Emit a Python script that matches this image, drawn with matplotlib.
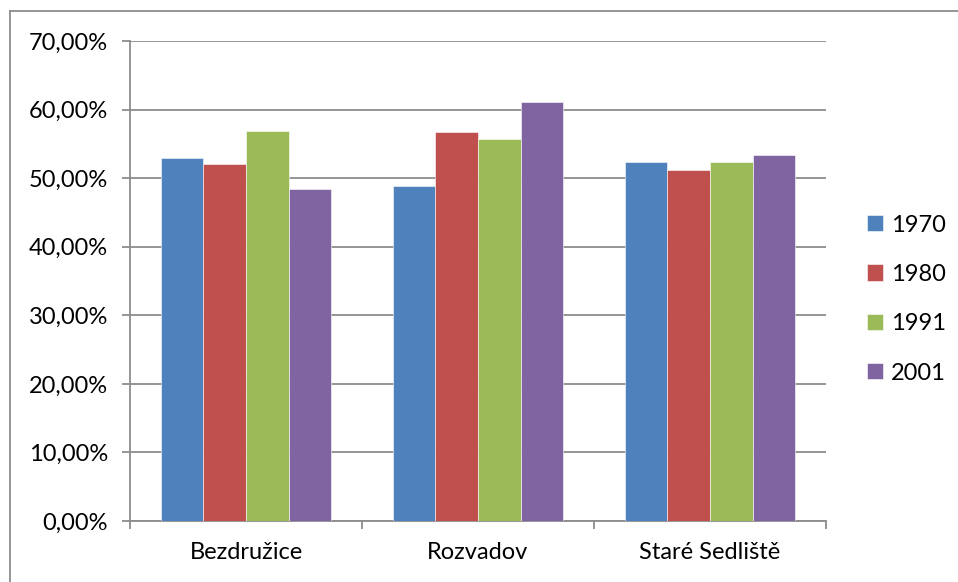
import numpy as np
import matplotlib.pyplot as plt
from matplotlib.lines import Line2D
from matplotlib.ticker import FuncFormatter

categories = ["Bezdružice", "Rozvadov", "Staré Sedliště"]
years = ["1970", "1980", "1991", "2001"]
values_1970 = [52.95, 48.85, 52.3]
values_1980 = [52.05, 56.7, 51.25]
values_1991 = [56.85, 55.65, 52.3]
values_2001 = [48.35, 61.1, 53.4]
series = [values_1970, values_1980, values_1991, values_2001]
colors = ["#4F81BD", "#C0504D", "#9BBB59", "#8064A2"]

plt.rcParams["font.family"] = ["Lato", "DejaVu Sans"]
grid_col = "#8c8c8c"
fs = 17

fig = plt.figure(figsize=(9.58, 5.82), dpi=100)
ax = fig.add_axes([130 / 958, 1 - 521 / 582, 696 / 958, 480 / 582])

x = np.arange(len(categories))
bw = 0.184
for i, (vals, c) in enumerate(zip(series, colors)):
    ax.bar(x + (i - 1.5) * bw, vals, width=bw, color=c, label=years[i],
           edgecolor="white", linewidth=0.4, zorder=3)

ax.set_xlim(-0.5, len(categories) - 0.5)
ax.set_ylim(0, 70)
ax.set_yticks(np.arange(0, 71, 10))
ax.yaxis.set_major_formatter(FuncFormatter(lambda v, p: f"{v:.2f}%".replace(".", ",")))
ax.yaxis.grid(True, color=grid_col, linewidth=1.3, zorder=0)

ax.set_xticks(x)
ax.set_xticklabels(categories)
ax.set_xticks(np.arange(-0.5, len(categories)), minor=True)
ax.tick_params(axis="x", which="major", length=0, pad=15, labelsize=fs)
ax.tick_params(axis="x", which="minor", length=5.8, width=1.3, color=grid_col)
ax.tick_params(axis="y", length=5.8, width=1.3, color=grid_col, pad=10, labelsize=fs)

for s in ["top", "right"]:
    ax.spines[s].set_visible(False)
for s in ["left", "bottom"]:
    ax.spines[s].set_color(grid_col)
    ax.spines[s].set_linewidth(1.3)

leg = fig.legend(*ax.get_legend_handles_labels(), loc="center left",
                 bbox_to_anchor=(867 / 958, 1 - 299 / 582), frameon=False,
                 fontsize=fs, handlelength=0.68, handleheight=0.68,
                 handletextpad=0.35, labelspacing=1.2, borderpad=0, borderaxespad=0)

# outer chart frame (top and left edges visible)
fig.add_artist(Line2D([10 / 958, 1], [1 - 11 / 582, 1 - 11 / 582], color=grid_col, linewidth=1.3))
fig.add_artist(Line2D([10 / 958, 10 / 958], [0, 1 - 11 / 582], color=grid_col, linewidth=1.3))

fig.savefig("out.png", dpi=100)
